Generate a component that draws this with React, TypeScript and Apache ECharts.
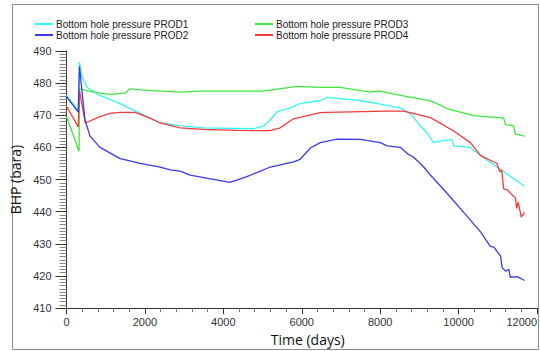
import React, { useEffect, useRef } from "react";
import * as echarts from "echarts";

const seriesNames = [
  "Bottom hole pressure PROD1",
  "Bottom hole pressure PROD2",
  "Bottom hole pressure PROD3",
  "Bottom hole pressure PROD4",
];

const prod1: [number, number][] = [
  [0, 476.2], [300, 471.6], [330, 486.6], [390, 482.2], [520, 478.7], [850, 476.2],
  [1370, 473.6], [1880, 470.6], [2390, 467.6], [2900, 466.8], [3490, 466.1], [4760, 465.8],
  [5020, 466.6], [5200, 468.6], [5370, 471.1], [5710, 472.3], [5960, 473.6], [6470, 474.6],
  [6640, 475.6], [7500, 474.6], [8000, 473.5], [8500, 472.3], [8770, 470.6], [9025, 466.6],
  [9200, 464.5], [9360, 461.5], [9450, 461.8], [9830, 462.5], [9875, 460.5], [10300, 460],
  [10560, 457.5], [10980, 453.9], [11680, 447.9],
];

const prod2: [number, number][] = [
  [0, 475.8], [300, 471], [330, 485.2], [470, 468.6], [600, 463.5], [855, 460],
  [1370, 456.5], [1880, 455], [2390, 453.9], [2640, 453], [2900, 452.6], [3150, 451.4],
  [4170, 449.1], [4600, 450.9], [5200, 453.9], [5790, 455.5], [5960, 456.3], [6220, 459.8],
  [6470, 461.5], [6900, 462.6], [7500, 462.5], [8000, 461.5], [8180, 460.5], [8520, 460],
  [8700, 458], [8850, 457], [9110, 453.9], [9280, 451.4], [9700, 445.8], [10130, 439.8],
  [10560, 433.7], [10810, 429.2], [10900, 429.0], [11070, 426.2], [11110, 422.6], [11200, 421.5],
  [11280, 422.1], [11320, 419.6], [11500, 419.8], [11680, 418.6],
];

const prod3: [number, number][] = [
  [0, 469.6], [320, 458.8], [330, 478.2], [680, 477.2], [1110, 476.5], [1490, 476.9],
  [1620, 478.2], [1880, 477.9], [2900, 477.2], [3400, 477.5], [5020, 477.5], [5880, 479],
  [6470, 478.7], [6980, 478.7], [7750, 477.2], [7960, 477.6], [8520, 476.2], [9280, 474.5],
  [9450, 473.6], [9700, 472.1], [10390, 469.9], [11150, 469.1], [11195, 467.1], [11400, 466.8],
  [11450, 464.2], [11680, 463.5],
];

const prod4: [number, number][] = [
  [0, 472.8], [300, 466.4], [330, 477.7], [480, 467.6], [855, 469.6], [1110, 470.6],
  [1370, 470.9], [1750, 470.9], [2130, 469.1], [2390, 467.6], [2900, 466.1], [3490, 465.6],
  [4345, 465.3], [5200, 465.2], [5450, 466.1], [5790, 468.9], [6470, 470.8], [6640, 470.9],
  [8170, 471.3], [8600, 471.3], [9280, 469.3], [9450, 468.1], [9875, 465.1], [10300, 461.5],
  [10560, 457.5], [10640, 457], [10980, 455], [11050, 452.4], [11100, 453], [11150, 447.1],
  [11250, 446.8], [11300, 446], [11450, 444.3], [11480, 441], [11520, 443], [11600, 438.3],
  [11680, 439.8],
];

const seriesData = [prod1, prod2, prod3, prod4];
const colors = ["#33f5f5", "#3a3af0", "#3ee83e", "#f53a3a"];

export default function App() {
  const ref = useRef<HTMLDivElement>(null);
  useEffect(() => {
    if (!ref.current) return;
    const chart = echarts.init(ref.current, undefined, { renderer: "svg" });
    const legendText = { fontFamily: "Liberation Sans", fontSize: 10, color: "#222", padding: [0, 0, 0, -2] };
    const legendBase = {
      orient: "vertical",
      top: 19,
      padding: 0,
      icon: "rect",
      itemWidth: 18,
      itemHeight: 2,
      itemGap: 1,
      textStyle: legendText,
    };
    chart.setOption({
      animation: false,
      backgroundColor: "#fff",
      graphic: [
        {
          type: "rect",
          shape: { x: 12.5, y: 4.5, width: 526, height: 345 },
          style: { fill: "none", stroke: "#8c8c8c", lineWidth: 1 },
          silent: true,
        },
      ],
      legend: [
        { ...legendBase, data: [seriesNames[0], seriesNames[1]], left: 35 },
        { ...legendBase, data: [seriesNames[2], seriesNames[3]], left: 255 },
      ],
      grid: { left: 66.5, right: 2.5, top: 51, bottom: 36 },
      xAxis: {
        type: "value",
        min: 0,
        max: 12000,
        interval: 2000,
        name: "Time (days)",
        nameLocation: "middle",
        nameGap: 19,
        nameTextStyle: { fontFamily: "Open Sans", fontSize: 14, color: "#111", padding: [0, 0, 0, 12] },
        axisLine: { show: true, lineStyle: { color: "#333", width: 1 } },
        axisTick: { show: true, length: 6, lineStyle: { color: "#333" } },
        minorTick: { show: true, splitNumber: 5, length: 4, lineStyle: { color: "#777" } },
        axisLabel: {
          margin: 8,
          fontFamily: "Liberation Sans",
          fontSize: 11,
          color: "#333",
          alignMaxLabel: "right",
          formatter: (v: number) => String(v),
        },
        splitLine: { show: false },
      },
      yAxis: {
        type: "value",
        min: 410,
        max: 490,
        interval: 10,
        name: "BHP (bara)",
        nameLocation: "middle",
        nameGap: 33,
        nameTextStyle: { fontFamily: "Open Sans", fontSize: 14, color: "#111" },
        axisLine: { show: true, lineStyle: { color: "#333", width: 1 } },
        axisTick: { show: true, length: 11, lineStyle: { color: "#333" } },
        minorTick: { show: true, splitNumber: 10, length: 7, lineStyle: { color: "#888" } },
        axisLabel: {
          margin: 15,
          fontFamily: "Liberation Sans",
          fontSize: 11,
          color: "#333",
          formatter: (v: number) => String(v),
        },
        splitLine: { show: false },
      },
      series: seriesData.map((d, i) => ({
        name: seriesNames[i],
        type: "line",
        data: d,
        symbol: "none",
        color: colors[i],
        lineStyle: { width: 1.3, color: colors[i] },
        z: i === 1 ? 3 : 2,
      })),
    });
    return () => chart.dispose();
  }, []);
  return (
    <div
      ref={ref}
      style={{ position: "fixed", left: 0, top: 0, width: 540, height: 351 }}
    />
  );
}
